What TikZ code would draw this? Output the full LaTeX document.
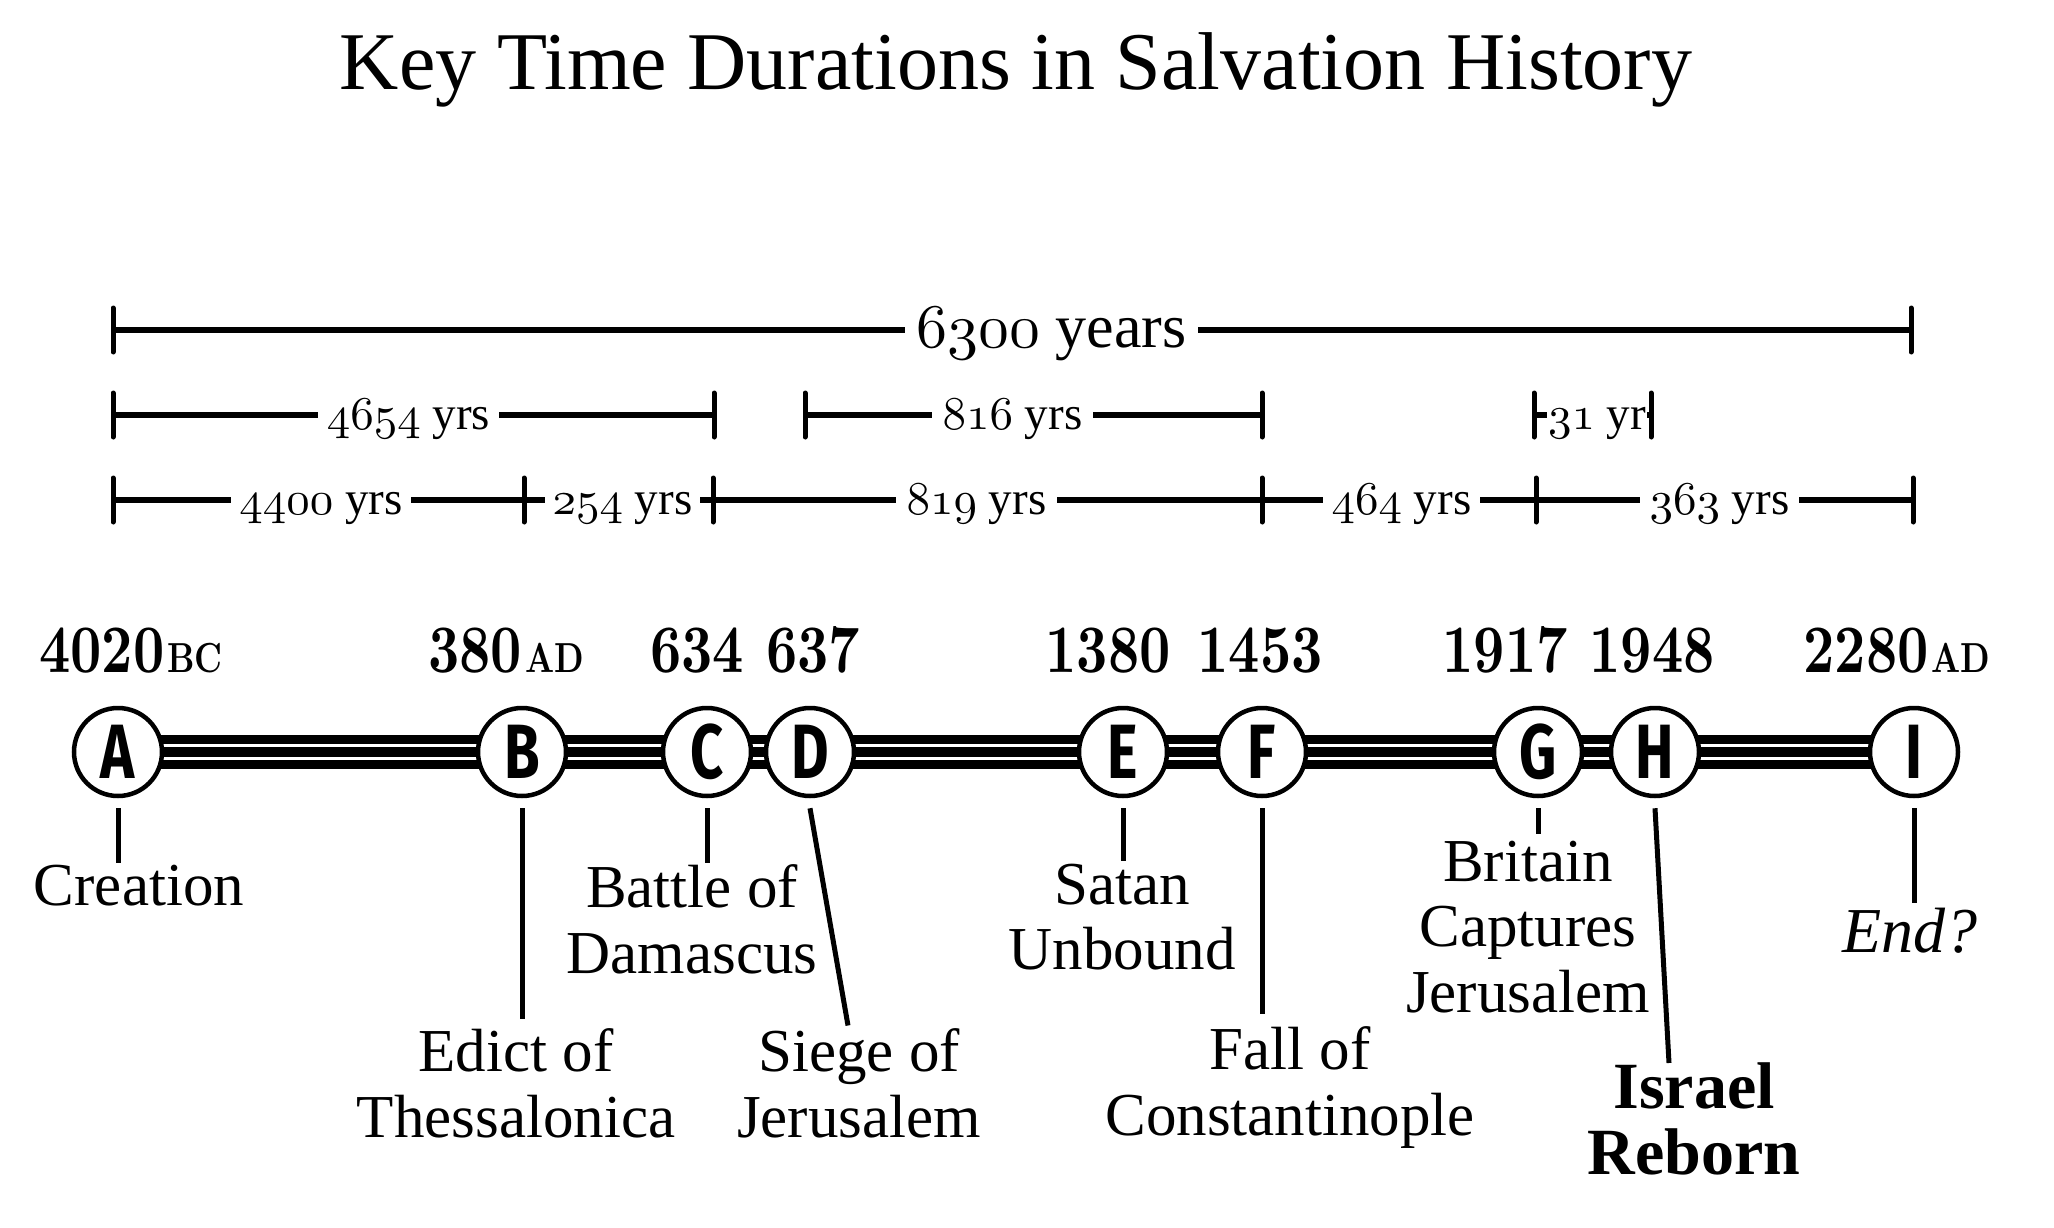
\documentclass[tikz,border=0pt]{standalone}
\usepackage{fontspec}
\usepackage{graphicx}
\setmainfont{Liberation Serif}
\newfontfamily\circfont[FakeStretch=0.75]{Fira Sans}
\newfontfamily\datefont[FakeStretch=0.8]{lmroman10-bold.otf}
\usetikzlibrary{calc}
\makeatletter
\newcommand\osf[1]{{\edef\osfscale{\strip@pt\dimexpr\f@size pt/10\relax}%
  \scalebox{\osfscale}{\fontsize{10}{10}\usefont{OML}{cmm}{m}{it}#1}}}
\makeatother
\tikzset{
  circ/.style={circle, draw, line width=4.5pt, fill=white, minimum size=88pt, inner sep=0pt,
    font=\circfont\bfseries\fontsize{77}{77}\selectfont},
  stripe/.style={line width=9.5pt},
  bar/.style={line width=5.5pt},
  tickmark/.style={line width=5pt, line cap=round},
  dur/.style={fill=white, inner ysep=0pt, inner xsep=1pt, anchor=base, font=\fontsize{47}{47}\selectfont},
  bigdur/.style={dur, font=\fontsize{62}{62}\selectfont},
  datelab/.style={anchor=base, inner sep=0pt, font=\datefont\fontsize{68}{68}\selectfont},
  lab/.style={align=center, anchor=north, inner sep=0pt, font=\fontsize{61}{65.5}\selectfont},
  conn/.style={line width=5pt},
}
\newcommand\era[1]{\kern3pt{\fontsize{42}{42}\selectfont #1}}
\begin{document}
\begin{tikzpicture}[x=1pt,y=-1pt]
\path[use as bounding box, fill=white] (0,0) rectangle (2054,1228);

% title
\node[anchor=base, inner sep=0pt, font=\fontsize{82}{82}\selectfont] (title) at (1016,90)
  {Key Time Durations in Salvation History};

% ---- duration row 1
\coordinate (r1a) at (113,330); \coordinate (r1b) at (1911,330);
\draw[bar] (r1a) -- (r1b);
\foreach \c in {r1a,r1b} \draw[tickmark] ($(\c)+(0,-22)$) -- ($(\c)+(0,22)$);
\node[bigdur, minimum width=293pt] (d6300) at (1051.5,347) {\osf{6300} years};

% ---- duration row 2
\coordinate (r2a) at (113,415);  \coordinate (r2b) at (714,415);
\coordinate (r2c) at (805,415);  \coordinate (r2d) at (1262,415);
\coordinate (r2e) at (1534,415); \coordinate (r2f) at (1651,415);
\draw[bar] (r2a) -- (r2b);
\draw[bar] (r2c) -- (r2d);
\draw[bar] (r2e) -- (r2f);
\foreach \c in {r2a,r2b,r2c,r2d,r2e,r2f} \draw[tickmark] ($(\c)+(0,-22)$) -- ($(\c)+(0,22)$);
\node[dur, minimum width=181pt] (d4654) at (408.5,429) {\osf{4654} yrs};
\node[dur, minimum width=161pt] (d816) at (1012.5,429) {\osf{816} yrs};
\node[dur] (d31) at (1597,429) {\osf{31} yr};

% ---- duration row 3
\coordinate (r3a) at (113,500);  \coordinate (r3b) at (524,500);
\coordinate (r3c) at (713,500);  \coordinate (r3d) at (1262,500);
\coordinate (r3e) at (1536,500); \coordinate (r3f) at (1913,500);
\draw[bar] (r3a) -- (r3f);
\foreach \c in {r3a,r3b,r3c,r3d,r3e,r3f} \draw[tickmark] ($(\c)+(0,-22)$) -- ($(\c)+(0,22)$);
\node[dur, minimum width=180pt] (d4400) at (321,514) {\osf{4400} yrs};
\node[dur, minimum width=155pt] (d254) at (622.5,514) {\osf{254} yrs};
\node[dur, minimum width=161pt] (d819) at (976.5,514) {\osf{819} yrs};
\node[dur, minimum width=157pt] (d464) at (1401.5,514) {\osf{464} yrs};
\node[dur, minimum width=159pt] (d363) at (1719.5,514) {\osf{363} yrs};

% ---- dates
\node[datelab] (yA) at (131,672) {4020\era{BC}};
\node[datelab] (yB) at (506,672) {380\era{AD}};
\node[datelab] (yC) at (697,672) {634};
\node[datelab] (yD) at (813,672) {637};
\node[datelab] (yE) at (1108,672) {1380};
\node[datelab] (yF) at (1260,672) {1453};
\node[datelab] (yG) at (1505,672) {1917};
\node[datelab] (yH) at (1652,672) {1948};
\node[datelab] (yI) at (1897,672) {2280\era{AD}};

% ---- timeline
\foreach \n/\x in {A/118,B/522,C/707,D/810,E/1123,F/1262,G/1538,H/1655,I/1914}
  \coordinate (p\n) at (\x,752);
\foreach \dy in {-12.5,0,12.5}
  \draw[stripe] ($(pA)+(0,\dy)$) -- ($(pI)+(0,\dy)$);
\foreach \n in {A,B,C,D,E,F,G,H,I}
  \node[circ] (\n) at (p\n) {\n};

% ---- event labels
\node[lab] (creation) at (139,864.5) {Creation};
\node[lab] (edict) at (516,1028.5) {Edict of\\Thessalonica};
\node[lab] (battle) at (692,864.5) {Battle of\\Damascus};
\node[lab] (siege) at (859,1028.5) {Siege of\\Jerusalem};
\node[lab] (satan) at (1122,863.5) {Satan\\Unbound};
\node[lab] (fall) at (1290,1026.5) {Fall of\\Constantinople};
\node[lab] (britain) at (1528,840.5) {Britain\\Captures\\Jerusalem};
\node[lab, font=\bfseries\fontsize{66}{66}\selectfont] (israel) at (1694,1062) {Israel\\Reborn};
\node[lab, font=\itshape\fontsize{64}{64}\selectfont] (endq) at (1910,908) {End?};

% ---- connectors
\draw[conn] ([yshift=-10pt]A.south) -- ($(A.south |- creation.north)+(0,-2)$);
\draw[conn] ([yshift=-10pt]B.south) -- ($(B.south |- edict.north)+(0,-10)$);
\draw[conn] ([yshift=-10pt]C.south) -- ($(C.south |- battle.north)+(0,-2)$);
\draw[conn] ([yshift=-10pt]D.south) -- ($(siege.north)+(-11,-3)$);
\draw[conn] ([yshift=-10pt]E.south) -- ($(E.south |- satan.north)+(0,-3)$);
\draw[conn] ([yshift=-10pt]F.south) -- ($(F.south |- fall.north)+(0,-13)$);
\draw[conn] ([yshift=-10pt]G.south) -- ($(G.south |- britain.north)+(0,-7)$);
\draw[conn] ([yshift=-10pt]H.south) -- ($(israel.north)+(-25,1)$);
\draw[conn] ([yshift=-10pt]I.south) -- ($(I.south |- endq.north)+(0,-5)$);
\end{tikzpicture}
\end{document}
